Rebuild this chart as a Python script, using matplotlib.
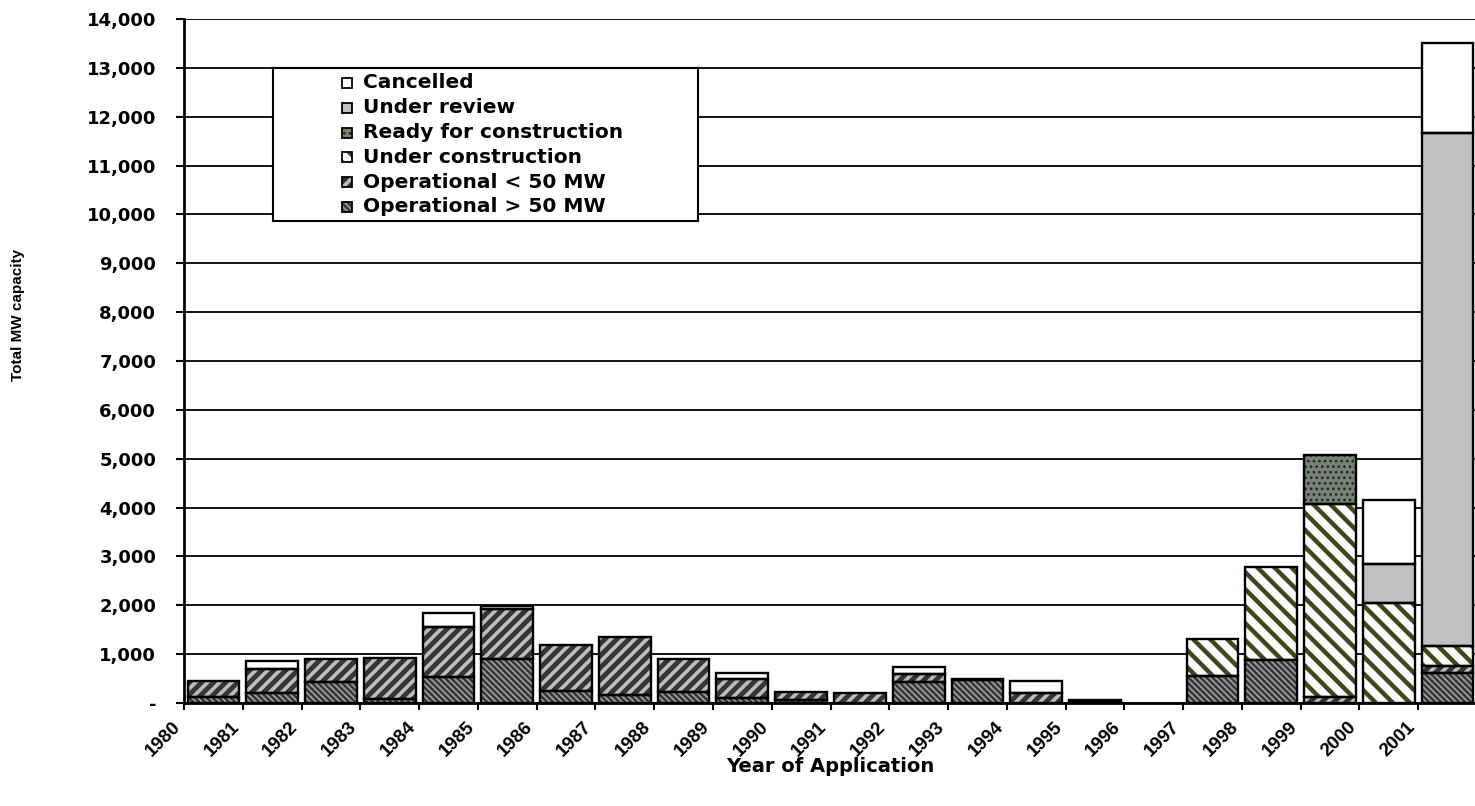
import matplotlib
matplotlib.use("Agg")
import matplotlib.pyplot as plt
import numpy as np
from matplotlib.collections import LineCollection
from matplotlib.transforms import IdentityTransform
from matplotlib.ticker import FuncFormatter

# MW of capacity by year of application, stacked bottom -> top
years = list(range(1980, 2002))
op_gt50 = [130, 210, 420, 90, 540, 900, 250, 160, 220, 100, 70, 0,
           420, 470, 0, 0, 0, 560, 890, 0, 0, 620]
op_lt50 = [320, 485, 490, 830, 1015, 1015, 940, 1190, 690, 400, 150, 195,
           165, 30, 210, 20, 0, 0, 0, 130, 0, 140]
under_construction = [0, 0, 0, 0, 0, 0, 0, 0, 0, 0, 0, 0,
                      0, 0, 0, 0, 0, 750, 1900, 3950, 2040, 410]
ready = [0, 0, 0, 0, 0, 0, 0, 0, 0, 0, 0, 0,
         0, 0, 0, 0, 0, 0, 0, 990, 0, 0]
under_review = [0, 0, 0, 0, 0, 0, 0, 0, 0, 0, 0, 0,
                0, 0, 0, 0, 0, 0, 0, 0, 810, 10500]
cancelled = [0, 170, 0, 0, 295, 80, 0, 0, 0, 120, 0, 0,
             160, 0, 245, 40, 0, 0, 0, 0, 1310, 1830]

series = [("Operational > 50 MW", op_gt50),
          ("Operational < 50 MW", op_lt50),
          ("Under construction", under_construction),
          ("Ready for construction", ready),
          ("Under review", under_review),
          ("Cancelled", cancelled)]

# fill / pattern per status: face, stripe (step px, slope, colour, lw) or hatch
STYLE = {
    "Operational > 50 MW": dict(face="#363636", stripe=(6, -1, "#9c9c9c", 1.3)),
    "Operational < 50 MW": dict(face="#353535", stripe=(12, 1, "#bdbdbd", 2.6)),
    "Under construction": dict(face="#fbfbff", stripe=(17, -1, "#45451a", 3.2)),
    "Ready for construction": dict(face="#7e7e7e", hatch=("...", "#0c3a0c")),
    "Under review": dict(face="#c0c0c0"),
    "Cancelled": dict(face="white"),
}

W, H = 1475, 806
BOLD = dict(fontfamily="DejaVu Sans", fontweight="bold")
plt.rcParams["hatch.linewidth"] = 1.2


def stripes(ax, rect, step, slope, color, lw, z):
    # diagonal lines on a fixed pixel grid, clipped to one bar segment
    x0, y0, x1, y1 = rect.get_window_extent().extents
    if slope > 0:
        ks = np.arange(np.floor((x0 - y1) / step) - 1, np.ceil((x1 - y0) / step) + 2)
        segs = [[(x0 - 3, x0 - 3 - k * step), (x1 + 3, x1 + 3 - k * step)] for k in ks]
    else:
        ks = np.arange(np.floor((x0 + y0) / step) - 1, np.ceil((x1 + y1) / step) + 2)
        segs = [[(x0 - 3, k * step - x0 + 3), (x1 + 3, k * step - x1 - 3)] for k in ks]
    lc = LineCollection(segs, colors=color, linewidths=lw,
                        transform=IdentityTransform(), zorder=z, capstyle="butt")
    ax.add_collection(lc, autolim=False)
    lc.set_clip_path(rect)


def fill_segment(ax, rect, st, z):
    if "stripe" in st:
        stripes(ax, rect, *st["stripe"], z=z)


fig = plt.figure(figsize=(W / 100, H / 100), dpi=100)
ax = fig.add_axes([184 / W, 1 - 703 / H, (1477 - 184) / W, (703 - 19) / H])
ax.set_xlim(-0.5, 21.5)
ax.set_ylim(0, 14000)

x = np.arange(len(years))
bottom = np.zeros(len(years))
bw = 0.88
drawn = []
for name, vals in series:
    v = np.array(vals, dtype=float)
    idx = np.nonzero(v)[0]
    st = STYLE[name]
    kw = dict(color=st["face"], linewidth=0, zorder=2)
    if "hatch" in st:
        kw.update(hatch=st["hatch"][0], edgecolor=st["hatch"][1])
    bars = ax.bar(x[idx], v[idx], bw, bottom=bottom[idx], **kw)
    drawn.append((bars, st, x[idx], v[idx], bottom[idx].copy()))
    bottom += v

ax.set_xlim(-0.5, 21.5)
ax.set_ylim(0, 14000)
for bars, st, xs, vs, bs in drawn:
    for r in bars.patches:
        fill_segment(ax, r, st, 2.2)
    ax.bar(xs, vs, bw, bottom=bs, fill=False, edgecolor="black",
           linewidth=1.7, zorder=2.5)

# axes, grid, ticks
for s in ("top", "right"):
    ax.spines[s].set_visible(False)
for s in ("left", "bottom"):
    ax.spines[s].set_linewidth(2)
ax.set_yticks(np.arange(0, 14001, 1000))
ax.yaxis.grid(True, color="black", linewidth=1.3)
ax.set_axisbelow(True)
ax.yaxis.set_major_formatter(FuncFormatter(lambda v, p: "-" if v == 0 else f"{v:,.0f}"))
ax.tick_params(axis="y", length=6, width=1.5, pad=14)
ax.set_xticks(x - 0.5)
ax.set_xticklabels([str(y) for y in years], rotation=45, ha="right", va="top")
ax.tick_params(axis="x", length=5, width=1.5, pad=6)
for lab in ax.get_yticklabels():
    lab.set(fontsize=13, **BOLD)
for lab in ax.get_xticklabels():
    lab.set(fontsize=13.5, fontfamily="Liberation Sans", fontweight="bold")

fig.text(830 / W, 1 - 767 / H, "Year of Application", ha="center", va="center",
         fontsize=14, **BOLD)
fig.text(18 / W, 1 - 315 / H, "Total MW capacity", rotation=90, ha="center",
         va="center", fontsize=11, fontfamily="Liberation Sans", fontweight="bold")

# legend box, drawn in its own pixel-unit axes
lw_, lh_ = 425, 153
lax = fig.add_axes([273 / W, 1 - 221 / H, lw_ / W, lh_ / H])
lax.set_xlim(0, lw_)
lax.set_ylim(lh_, 0)
lax.set_xticks([])
lax.set_yticks([])
for s in lax.spines.values():
    s.set_linewidth(1.5)
for i, (name, _) in enumerate(series[::-1]):
    yc = 15 + 24.8 * i
    st = STYLE[name]
    kw = dict(color=st["face"], linewidth=0)
    if "hatch" in st:
        kw.update(hatch=st["hatch"][0], edgecolor=st["hatch"][1])
    sq = lax.bar([74], [10], 10, bottom=[yc - 5], **kw)
    lax.set_xlim(0, lw_)
    lax.set_ylim(lh_, 0)
    for r in sq.patches:
        fill_segment(lax, r, st, 2.2)
    lax.bar([74], [10], 10, bottom=[yc - 5], fill=False, edgecolor="black",
            linewidth=1.3, zorder=2.5)
    lax.text(90, yc, name, va="center", ha="left", fontsize=14.5, **BOLD)

fig.savefig("out.png", dpi=100)
